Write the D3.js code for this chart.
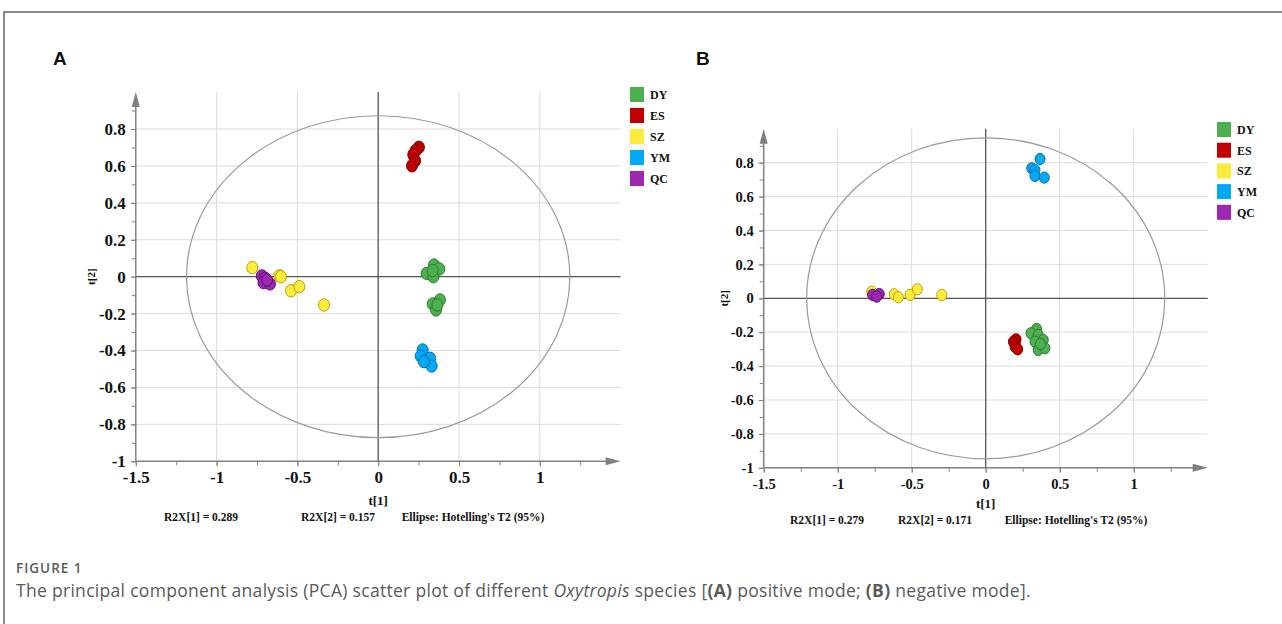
<!DOCTYPE html>
<html>
<head>
  <meta charset="utf-8">
  <title>PCA scatter plot</title>
  <style>
    body { margin: 0; background: #fff; }
    .serif { font-family: "Liberation Serif", "Times New Roman", serif; font-weight: bold; fill: #111; }
    .caption { font-family: "Open Sans", "Noto Sans", sans-serif; fill: #5a5a5a; }
  </style>
</head>
<body>
  <svg id="fig" width="1282" height="624"></svg>

  <script src="https://d3js.org/d3.v7.min.js"></script>
  <script>
    // nhóm mẫu và nhãn trục
    const groups = ["DY", "ES", "SZ", "YM", "QC"];
    const xTicks = [-1.5, -1, -0.5, 0, 0.5, 1];
    const yTicks = [-1, -0.8, -0.6, -0.4, -0.2, 0, 0.2, 0.4, 0.6, 0.8];
    const xMinor = [-1.5, -1.25, -1, -0.75, -0.5, -0.25, 0, 0.25, 0.5, 0.75, 1, 1.25];
    const yMinor = [-1, -0.9, -0.8, -0.7, -0.6, -0.5, -0.4, -0.3, -0.2, -0.1, 0, 0.1, 0.2, 0.3, 0.4, 0.5, 0.6, 0.7, 0.8, 0.9];

    // (A) positive mode: [t1, t2]
    const posDY = [[0.345, 0.063], [0.378, 0.042], [0.300, 0.018], [0.341, 0.0], [0.337, 0.033],
                   [0.382, -0.126], [0.337, -0.148], [0.358, -0.180], [0.366, -0.153]];
    const posES = [[0.252, 0.701], [0.232, 0.683], [0.217, 0.661], [0.228, 0.628], [0.209, 0.601]];
    const posSZ = [[-0.779, 0.049], [-0.612, 0.005], [-0.602, 0.0], [-0.540, -0.076], [-0.488, -0.054], [-0.335, -0.153]];
    const posYM = [[0.275, -0.397], [0.263, -0.430], [0.321, -0.442], [0.331, -0.484], [0.283, -0.460]];
    const posQC = [[-0.720, 0.004], [-0.700, -0.009], [-0.710, -0.032], [-0.670, -0.039], [-0.687, -0.018]];
    const posEllipse = [1.186, 0.872];
    const posStats = ["R2X[1] = 0.289", "R2X[2] = 0.157", "Ellipse: Hotelling's T2 (95%)"];

    // (B) negative mode: [t1, t2]
    const negDY = [[0.344, -0.181], [0.306, -0.206], [0.355, -0.216], [0.333, -0.256], [0.389, -0.246],
                   [0.355, -0.305], [0.400, -0.295], [0.370, -0.270]];
    const negES = [[0.205, -0.242], [0.187, -0.256], [0.200, -0.270], [0.198, -0.286], [0.216, -0.301]];
    const negSZ = [[-0.770, 0.039], [-0.618, 0.024], [-0.590, 0.006], [-0.511, 0.020], [-0.462, 0.053], [-0.297, 0.020]];
    const negYM = [[0.367, 0.822], [0.311, 0.767], [0.333, 0.757], [0.333, 0.722], [0.396, 0.712]];
    const negQC = [[-0.764, 0.020], [-0.719, 0.025], [-0.737, 0.010]];
    const negEllipse = [1.21, 0.947];
    const negStats = ["R2X[1] = 0.279", "R2X[2] = 0.171", "Ellipse: Hotelling's T2 (95%)"];

    // màu
    const colors = { DY: "#4caf50", ES: "#c00000", SZ: "#ffeb3b", YM: "#03a9f4", QC: "#9c27b0" };
    const strokes = { DY: "#2e7d32", ES: "#7f0000", SZ: "#b8a400", YM: "#0b6fa8", QC: "#5e1070" };

    const svg = d3.select("#fig");

    // khung
    svg.append("path")
      .attr("d", "M4,624 L4,12 L1282,12")
      .attr("fill", "none")
      .attr("stroke", "#666")
      .attr("stroke-width", 1.5);

    function drawPanel(p) {
      const x = d3.scaleLinear().domain([-1.5, 1.5]).range([p.x0, p.x1]);
      const y = d3.scaleLinear().domain([-1, 1]).range([p.y0, p.y1]);
      const g = svg.append("g");

      // lưới
      g.selectAll(".hgrid")
        .data(yTicks.filter(d => d !== 0 && d !== -1))
        .enter().append("line")
        .attr("x1", p.x0).attr("x2", p.x1)
        .attr("y1", d => y(d)).attr("y2", d => y(d))
        .attr("stroke", "#dcdcdc");
      g.selectAll(".vgrid")
        .data(xTicks.filter(d => d !== 0 && d !== -1.5))
        .enter().append("line")
        .attr("x1", d => x(d)).attr("x2", d => x(d))
        .attr("y1", p.y0).attr("y2", p.y1)
        .attr("stroke", "#dcdcdc");

      // đường 0
      g.append("line")
        .attr("x1", p.x0).attr("x2", p.x1)
        .attr("y1", y(0)).attr("y2", y(0))
        .attr("stroke", "#555").attr("stroke-width", 1.3);
      g.append("line")
        .attr("x1", x(0)).attr("x2", x(0))
        .attr("y1", p.y0).attr("y2", p.y1)
        .attr("stroke", "#555").attr("stroke-width", 1.3);

      // trục với tick phụ
      const axisY = g.append("g")
        .attr("transform", `translate(${p.x0},0)`)
        .call(d3.axisLeft(y).tickValues(yMinor).tickSize(4).tickFormat(""));
      const axisYMajor = g.append("g")
        .attr("transform", `translate(${p.x0},0)`)
        .call(d3.axisLeft(y).tickValues(yTicks).tickSize(5).tickPadding(5).tickFormat(d => String(d)));
      const axisX = g.append("g")
        .attr("transform", `translate(0,${p.y0})`)
        .call(d3.axisBottom(x).tickValues(xMinor).tickSize(4).tickFormat(""));
      const axisXMajor = g.append("g")
        .attr("transform", `translate(0,${p.y0})`)
        .call(d3.axisBottom(x).tickValues(xTicks).tickSize(5).tickPadding(p.xPad).tickFormat(d => String(d)));

      [axisY, axisYMajor, axisX, axisXMajor].forEach(a => {
        a.select(".domain").remove();
        a.selectAll("line").attr("stroke", "#808080");
        a.selectAll("text")
          .attr("class", "serif")
          .style("font-size", p.tickSize + "px")
          .attr("fill", "#111");
      });

      g.append("line")
        .attr("x1", p.x0).attr("x2", p.x0)
        .attr("y1", p.y0).attr("y2", p.y1 + 10)
        .attr("stroke", "#808080").attr("stroke-width", 1.5);
      g.append("line")
        .attr("x1", p.x0).attr("x2", p.x1 - 10)
        .attr("y1", p.y0).attr("y2", p.y0)
        .attr("stroke", "#808080").attr("stroke-width", 1.5);
      g.append("path")
        .attr("d", `M${p.x0},${p.y1} L${p.x0 - 4},${p.y1 + 15} L${p.x0 + 4},${p.y1 + 15} Z`)
        .attr("fill", "#808080");
      g.append("path")
        .attr("d", `M${p.x1},${p.y0} L${p.x1 - 15},${p.y0 - 4} L${p.x1 - 15},${p.y0 + 4} Z`)
        .attr("fill", "#808080");

      // ellipse Hotelling T2
      g.append("ellipse")
        .attr("cx", x(0)).attr("cy", y(0))
        .attr("rx", x(p.ellipse[0]) - x(0))
        .attr("ry", y(0) - y(p.ellipse[1]))
        .attr("fill", "none")
        .attr("stroke", "#9a9a9a")
        .attr("stroke-width", 1.2);

      // điểm
      groups.forEach(k => {
        g.selectAll(".pt-" + k)
          .data(p.data[k])
          .enter().append("ellipse")
          .attr("cx", d => x(d[0]))
          .attr("cy", d => y(d[1]))
          .attr("rx", p.rx).attr("ry", p.ry)
          .attr("fill", colors[k])
          .attr("stroke", strokes[k])
          .attr("stroke-width", 1);
      });

      // nhãn trục
      g.append("text")
        .attr("class", "serif")
        .attr("x", x(0)).attr("y", p.t1y)
        .attr("text-anchor", "middle")
        .style("font-size", "13px")
        .text("t[1]");
      g.append("text")
        .attr("class", "serif")
        .attr("transform", `translate(${p.t2x},${y(0)}) rotate(-90)`)
        .attr("text-anchor", "middle")
        .style("font-size", "11px")
        .text("t[2]");

      g.selectAll(".stat")
        .data(p.stats)
        .enter().append("text")
        .attr("class", "serif")
        .attr("x", (d, i) => p.statX[i])
        .attr("y", p.statY)
        .attr("text-anchor", "middle")
        .style("font-size", "11.5px")
        .text(d => d);

      // chú thích
      const leg = g.selectAll(".leg")
        .data(groups)
        .enter().append("g")
        .attr("transform", (d, i) => `translate(${p.lx},${p.ly + i * p.lstep})`);
      leg.append("rect")
        .attr("width", 14).attr("height", 15)
        .attr("fill", d => colors[d]);
      leg.append("text")
        .attr("class", "serif")
        .attr("x", 20).attr("y", 12)
        .style("font-size", "12px")
        .text(d => d);

      // chữ cái panel
      svg.append("text")
        .attr("x", p.letterX).attr("y", 65)
        .style("font-family", "'Liberation Sans Narrow', 'Liberation Sans', Arial, sans-serif")
        .style("font-weight", "bold")
        .style("font-size", "19px")
        .attr("fill", "#111")
        .text(p.letter);
    }

    drawPanel({
      letter: "A", letterX: 53,
      x0: 135.8, x1: 620.6, y0: 461.3, y1: 92.1,
      tickSize: 17, xPad: 5, t1y: 505, t2x: 95,
      stats: posStats, statX: [201, 338, 473], statY: 521,
      lx: 630, ly: 87, lstep: 21,
      ellipse: posEllipse, rx: 5.5, ry: 6.2,
      data: { DY: posDY, ES: posES, SZ: posSZ, YM: posYM, QC: posQC }
    });

    drawPanel({
      letter: "B", letterX: 696,
      x0: 763.7, x1: 1207.7, y0: 467.8, y1: 128.8,
      tickSize: 14.5, xPad: 6, t1y: 508, t2x: 728,
      stats: negStats, statX: [827, 935, 1076], statY: 524,
      lx: 1217, ly: 122, lstep: 20.7,
      ellipse: negEllipse, rx: 5, ry: 5.6,
      data: { DY: negDY, ES: negES, SZ: negSZ, YM: negYM, QC: negQC }
    });

    // chú thích hình
    svg.append("text")
      .attr("class", "caption")
      .attr("x", 16).attr("y", 573)
      .style("font-size", "13.5px")
      .style("font-weight", "600")
      .style("letter-spacing", "1px")
      .text("FIGURE 1");

    const cap = svg.append("text")
      .attr("class", "caption")
      .attr("x", 16).attr("y", 597)
      .style("font-size", "17.5px")
      .style("letter-spacing", "0.3px");
    cap.append("tspan").text("The principal component analysis (PCA) scatter plot of different ");
    cap.append("tspan").style("font-style", "italic").text("Oxytropis");
    cap.append("tspan").text(" species [");
    cap.append("tspan").style("font-weight", "bold").text("(A)");
    cap.append("tspan").text(" positive mode; ");
    cap.append("tspan").style("font-weight", "bold").text("(B)");
    cap.append("tspan").text(" negative mode].");
  </script>
</body>
</html>
